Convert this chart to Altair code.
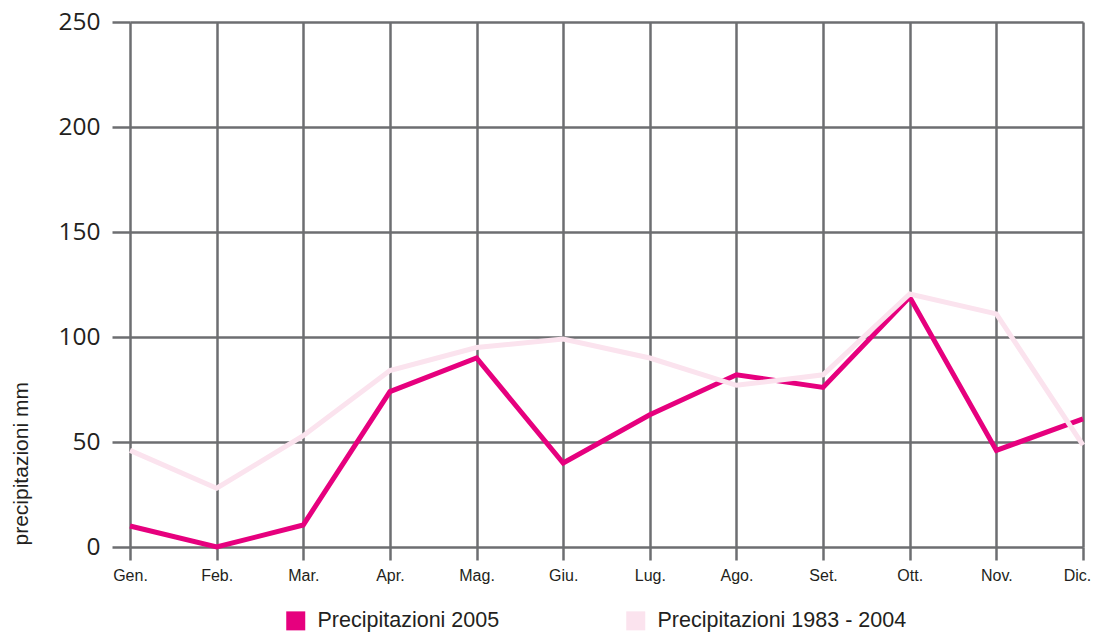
import altair as alt
import pandas as pd

months = ["Gen.", "Feb.", "Mar.", "Apr.", "Mag.", "Giu.", "Lug.", "Ago.", "Set.", "Ott.", "Nov.", "Dic."]
series_2005 = [10, 0, 10.5, 74, 90, 40, 63, 82, 76, 119, 46, 61]
series_hist = [46, 28, 53, 84, 95, 99, 90, 77, 82, 120.5, 111, 48.5]
names = ["Precipitazioni 2005", "Precipitazioni 1983 - 2004"]
colors = ["#e6007e", "#fbe3ee"]
y_ticks = [0, 50, 100, 150, 200, 250]

df = pd.DataFrame(
    [{"mese": m, "mm": v, "serie": names[0]} for m, v in zip(months, series_2005)]
    + [{"mese": m, "mm": v, "serie": names[1]} for m, v in zip(months, series_hist)]
)

GRID = "#6d6e71"
TXT = "#231f20"

x_enc = alt.X(
    "mese:N",
    sort=months,
    scale=alt.Scale(type="point", padding=0),
    axis=alt.Axis(
        title=None, domain=False, grid=True, gridColor=GRID, gridWidth=2.5, gridOpacity=1,
        ticks=True, tickSize=13, tickColor=GRID, tickWidth=2.5,
        labelFont="Liberation Sans", labelFontSize=16, labelColor=TXT, labelPadding=7,
        labelAngle=0,
        labelOffset={"condition": {"test": "datum.value == 'Dic.'", "value": -6}, "value": 0},
    ),
)
y_enc = alt.Y(
    "mm:Q",
    scale=alt.Scale(domain=[0, 250], nice=False, zero=True),
    axis=alt.Axis(
        values=y_ticks, title="precipitazioni mm", domain=False, grid=True, gridColor=GRID,
        gridWidth=2.5, gridOpacity=1, ticks=True, tickSize=18, tickColor=GRID, tickWidth=2.5,
        labelFont="Open Sans", labelFontSize=24.5, labelColor=TXT, labelPadding=12,
        titleFont="Liberation Sans", titleFontSize=21, titleFontWeight="normal", titleColor=TXT,
        titleAnchor="start", titleAngle=270, titleX=-109, titleY=523, titleBaseline="middle",
        titleAlign="left",
    ),
)
color_enc = alt.Color(
    "serie:N",
    sort=names,
    scale=alt.Scale(domain=names, range=colors),
    legend=alt.Legend(
        title=None, orient="none", legendX=155, legendY=588, direction="horizontal",
        symbolType="square", symbolSize=16, symbolStrokeWidth=15, symbolOpacity=1,
        labelFont="Liberation Sans", labelFontSize=21.5, labelColor=TXT, labelOffset=11,
        columnPadding=103, labelLimit=400,
    ),
)

base = alt.Chart(df).mark_line(strokeWidth=5, strokeJoin="miter", strokeCap="butt")

line_2005 = base.transform_filter(alt.datum.serie == names[0]).encode(x=x_enc, y=y_enc, color=color_enc)
line_hist = base.transform_filter(alt.datum.serie == names[1]).encode(x=x_enc, y=y_enc, color=color_enc)

chart = (
    alt.layer(line_2005, line_hist)
    .properties(
        width=953, height=525,
        autosize=alt.AutoSizeParams(type="none"),
        padding={"left": 122, "top": 14, "right": 11, "bottom": 85},
        background="white",
    )
    .configure_view(stroke=None)
)

chart.save("out.html", embed_options={"renderer": "svg", "actions": False})
